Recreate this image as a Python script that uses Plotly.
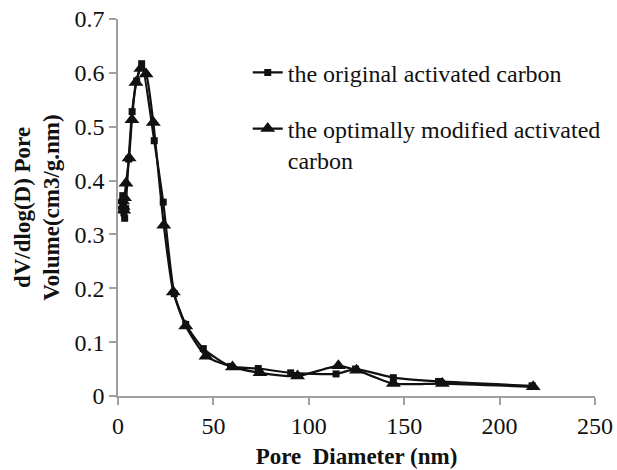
import plotly.graph_objects as go

orig_d = [2.5, 2.8, 3.1, 3.5, 4.0, 5.6, 7.4, 9.8, 12.4, 19.0, 23.7, 29.5, 35.5, 44.7, 59.0, 73.5, 90.5, 114.3, 124.5, 144.3, 168.0, 217.0]
orig_v = [0.372, 0.352, 0.340, 0.330, 0.348, 0.440, 0.528, 0.585, 0.617, 0.474, 0.360, 0.190, 0.133, 0.088, 0.055, 0.051, 0.043, 0.041, 0.050, 0.034, 0.027, 0.019]

mod_d = [2.4, 2.7, 3.0, 3.4, 4.2, 5.8, 7.3, 9.4, 12.0, 14.7, 18.5, 24.0, 29.0, 35.5, 46.1, 60.0, 74.4, 94.1, 115.5, 125.0, 144.3, 170.0, 217.6]
mod_v = [0.362, 0.352, 0.345, 0.368, 0.395, 0.442, 0.513, 0.582, 0.608, 0.598, 0.508, 0.317, 0.193, 0.130, 0.074, 0.054, 0.043, 0.037, 0.056, 0.048, 0.023, 0.023, 0.017]

x_ticks = [0, 50, 100, 150, 200, 250]
y_ticks = [0, 0.1, 0.2, 0.3, 0.4, 0.5, 0.6, 0.7]

SERIF = "'Liberation Serif', 'Times New Roman', Tinos, 'DejaVu Serif', serif"

fig = go.Figure()
fig.add_trace(go.Scatter(
    x=orig_d, y=orig_v, name="the original activated carbon",
    mode="lines+markers", line=dict(color="#111111", width=2.2, shape="spline", smoothing=0.6),
    marker=dict(symbol="square", size=7, color="#111111"), legendgroup="a"))
fig.add_trace(go.Scatter(
    x=mod_d, y=mod_v, name="the optimally modified activated<br>carbon",
    mode="lines+markers", line=dict(color="#111111", width=2.2, shape="spline", smoothing=0.6),
    marker=dict(symbol="triangle-up", size=13, color="#111111"), legendgroup="b"))

axis_common = dict(showgrid=False, zeroline=False, showline=True, linecolor="#a0a0a0", linewidth=1.5,
                   ticks="outside", tickcolor="#a0a0a0", ticklen=7, tickwidth=1.5, automargin=False,
                   tickfont=dict(family=SERIF, size=24, color="#111111", weight="normal"))

fig.update_layout(
    width=617, height=470,
    margin=dict(l=118, r=22, t=19, b=74, autoexpand=False),
    paper_bgcolor="white", plot_bgcolor="white",
    font=dict(family=SERIF, color="#111111"),
    xaxis=dict(range=[0, 250], tickvals=x_ticks, ticktext=[str(t) for t in x_ticks],
               title=dict(text="<b>Pore&nbsp; Diameter (nm)</b>", font=dict(family=SERIF, size=23, color="#111111"), standoff=10),
               **axis_common),
    yaxis=dict(range=[0, 0.7], tickvals=y_ticks, ticktext=["0" if t == 0 else f"{t:.1f}" for t in y_ticks],
               title=dict(text="<b>dV/dlog(D) Pore<br>Volume(cm3/g.nm)</b>", font=dict(family=SERIF, size=23, color="#111111"), standoff=8),
               **axis_common),
    legend=dict(x=0.272, y=0.917, xanchor="left", yanchor="top", bgcolor="rgba(0,0,0,0)", valign="top",
                font=dict(family=SERIF, size=24, color="#111111"), tracegroupgap=22),
    showlegend=True,
)

fig.write_html("out.html")
